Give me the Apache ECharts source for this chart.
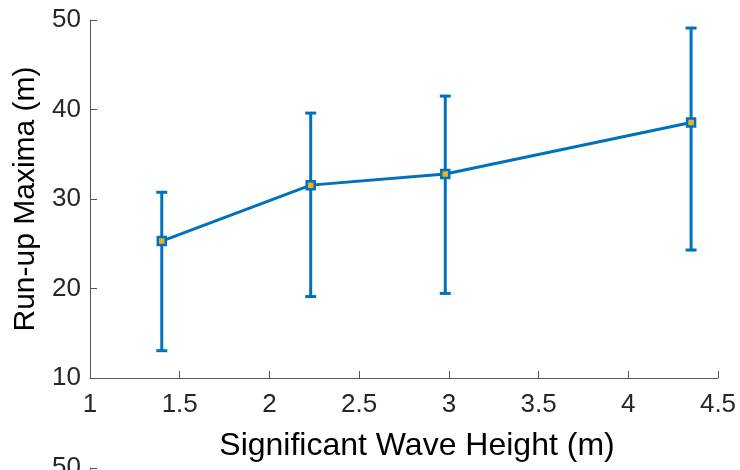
<!DOCTYPE html>
<html>
<head>
<meta charset="utf-8">
<script src="https://cdn.jsdelivr.net/npm/echarts@6/dist/echarts.min.js"></script>
<style>html,body{margin:0;padding:0;background:#fff}#c{width:740px;height:470px}</style>
</head>
<body>
<div id="c"></div>
<script>
const waveHeight = [1.40, 2.23, 2.98, 4.35];
const runupMean = [25.3, 31.55, 32.8, 38.55];
const runupLower = [13.05, 19.1, 19.45, 24.3];
const runupUpper = [30.75, 39.6, 41.5, 49.1];
const xLabel = 'Significant Wave Height (m)';
const yLabel = 'Run-up Maxima (m)';

const blue = '#0072BD';
const yellow = '#EDB120';
const axisColor = '#262626';
const font = 'Liberation Sans, Arial, Helvetica, sans-serif';

const chart = echarts.init(document.getElementById('c'), null, {renderer: 'canvas'});
const errData = waveHeight.map((x, i) => [x, runupLower[i], runupUpper[i]]);
const lineData = waveHeight.map((x, i) => [x, runupMean[i]]);

const axisCommon = {
  axisLine: {show: true, lineStyle: {color: '#555', width: 1}},
  axisTick: {show: true, inside: true, length: 7, lineStyle: {color: '#555', width: 1}},
  splitLine: {show: false},
  axisLabel: {color: axisColor, fontSize: 26, fontFamily: font, showMaxLabel: true, showMinLabel: true},
};

chart.setOption({
  animation: false,
  backgroundColor: '#fff',
  grid: [
    {left: 90, top: 20, right: 22, bottom: 92, outerBoundsMode: 'none', containLabel: false},
    {left: 90, top: 468, width: 628, height: 358, outerBoundsMode: 'none', containLabel: false}
  ],
  xAxis: [
    Object.assign({}, axisCommon, {
      type: 'value', gridIndex: 0, min: 1, max: 4.5, interval: 0.5,
      axisLabel: Object.assign({}, axisCommon.axisLabel, {margin: 14}),
      name: xLabel, nameLocation: 'middle', nameGap: 52,
      nameTextStyle: {color: '#000', fontSize: 32, fontFamily: font, padding: [0, 0, 0, 26]}
    }),
    {type: 'value', gridIndex: 1, min: 1, max: 4.5, show: false}
  ],
  yAxis: [
    Object.assign({}, axisCommon, {
      type: 'value', gridIndex: 0, min: 10, max: 50, interval: 10,
      axisLabel: Object.assign({}, axisCommon.axisLabel, {margin: 9}),
      name: yLabel, nameLocation: 'middle', nameGap: 48, nameRotate: 90,
      nameTextStyle: {color: '#000', fontSize: 30, fontFamily: font}
    }),
    Object.assign({}, axisCommon, {
      type: 'value', gridIndex: 1, min: 10, max: 50, interval: 10,
      axisLabel: Object.assign({}, axisCommon.axisLabel, {margin: 9})
    })
  ],
  series: [
    {
      type: 'custom',
      xAxisIndex: 0, yAxisIndex: 0,
      data: errData,
      z: 2,
      renderItem: function (params, api) {
        const x = api.value(0);
        const lo = api.coord([x, api.value(1)]);
        const hi = api.coord([x, api.value(2)]);
        const hw = 5.5;
        const style = {stroke: blue, lineWidth: 3};
        return {
          type: 'group',
          children: [
            {type: 'line', shape: {x1: lo[0], y1: lo[1], x2: hi[0], y2: hi[1]}, style: style},
            {type: 'line', shape: {x1: lo[0] - hw, y1: lo[1], x2: lo[0] + hw, y2: lo[1]}, style: style},
            {type: 'line', shape: {x1: hi[0] - hw, y1: hi[1], x2: hi[0] + hw, y2: hi[1]}, style: style}
          ]
        };
      }
    },
    {
      type: 'line',
      xAxisIndex: 0, yAxisIndex: 0,
      data: lineData,
      z: 3,
      symbol: 'rect',
      symbolSize: 8,
      showAllSymbol: true,
      lineStyle: {color: blue, width: 3},
      itemStyle: {color: yellow, borderColor: blue, borderWidth: 2.5},
      emphasis: {disabled: true}
    }
  ]
});
</script>
</body>
</html>
